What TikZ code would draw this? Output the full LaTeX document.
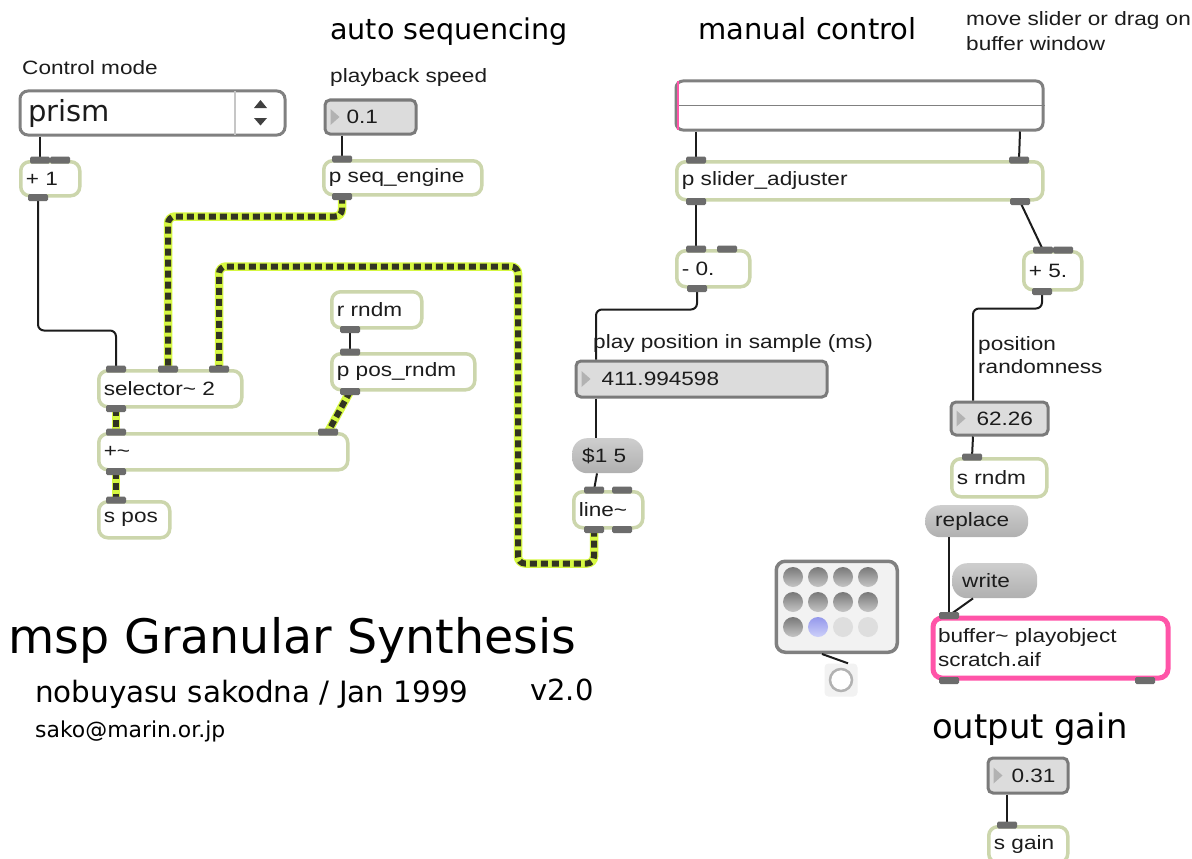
\documentclass[tikz,border=0pt]{standalone}
\usepackage{fontspec}
\setmainfont{DejaVu Sans}
\newfontfamily\maxfont[FakeStretch=1.17]{Liberation Sans}
\usetikzlibrary{calc}

\definecolor{objc}{RGB}{204,214,172}
\definecolor{tabc}{RGB}{108,108,108}
\definecolor{numfill}{RGB}{220,220,220}
\definecolor{numedge}{RGB}{122,122,122}
\definecolor{menuedge}{RGB}{128,128,128}
\definecolor{msgtop}{RGB}{206,206,206}
\definecolor{msgbot}{RGB}{176,176,176}
\definecolor{sigyel}{RGB}{214,248,66}
\definecolor{sigdark}{RGB}{50,52,34}
\definecolor{bufpink}{RGB}{255,84,168}
\definecolor{cordc}{RGB}{28,28,28}
\definecolor{ink}{RGB}{28,28,28}
\definecolor{tric}{RGB}{178,178,178}
\definecolor{padfill}{RGB}{242,242,242}
\definecolor{ledtop}{RGB}{120,120,120}
\definecolor{ledbot}{RGB}{198,198,198}
\definecolor{ledoff}{RGB}{222,222,222}
\definecolor{ledontop}{RGB}{148,152,235}
\definecolor{ledonbot}{RGB}{205,208,250}

\newcommand\objtext{\maxfont\fontsize{19.3}{24}\selectfont}
\newcommand\sanssize[1]{\fontsize{#1}{#1}\selectfont}
\newcommand\porttab[1]{\fill[tabc,rounded corners=1.5pt] ($(#1)+(-10pt,-3.5pt)$) rectangle ($(#1)+(10pt,3.5pt)$);}
\newcommand\mkin[3]{\coordinate (#1-i#2) at ($(#1.north west)+(#3,0)$);}
\newcommand\mkout[3]{\coordinate (#1-o#2) at ($(#1.south west)+(#3,0)$);}
\newcommand\numtri[1]{\fill[tric] ($(#1.west)+(7,-8)$) -- ($(#1.west)+(7,8)$) -- ($(#1.west)+(16,0)$) -- cycle;}

\begin{document}
\begin{tikzpicture}[x=1pt,y=-1pt,
  obj/.style={draw=objc, line width=3.5pt, rounded corners=9pt, fill=white, anchor=north west,
    inner xsep=5pt, inner ysep=0pt, align=left, font=\objtext, text=ink},
  numbox/.style={draw=numedge, fill=numfill, line width=3pt, rounded corners=5pt, anchor=north west,
    inner xsep=0pt, inner ysep=0pt, align=left, font=\objtext, text=ink},
  msgbox/.style={top color=msgtop, bottom color=msgbot, rounded corners=15pt, anchor=north west,
    inner xsep=10pt, inner ysep=0pt, align=left, font=\objtext, text=ink},
  ctl/.style={draw=cordc, line width=2pt, rounded corners=6pt},
  sig/.style={draw=sigdark, line width=6pt, dash pattern=on 7pt off 4pt, rounded corners=7pt,
    preaction={draw=sigyel, line width=8.5pt, solid}},
  label/.style={anchor=base west, inner sep=0pt, font=\objtext, text=ink},
  heading/.style={anchor=base west, inner sep=0pt, text=black},
]
\useasboundingbox (0,0) rectangle (1192,859);
\fill[white] (0,0) rectangle (1192,859);

% headings and comments
\node[heading, font=\sanssize{28.6}] (autoseq) at (330,40) {auto sequencing};
\node[heading, font=\sanssize{29}] (manual) at (698,40) {manual control};
\node[label] (hint1) at (966,26) {move slider or drag on};
\node[label] (hint2) at (966,51) {buffer window};
\node[label] (modelbl) at (22,75) {Control mode};
\node[label] (speedlbl) at (330,82) {playback speed};
\node[label] (poslbl) at (593,348) {play position in sample (ms)};
\node[label] (rndlbl1) at (978,350) {position};
\node[label] (rndlbl2) at (978,373) {randomness};
\node[heading, font=\sanssize{47.5}] (title) at (8,653) {msp Granular Synthesis};
\node[heading, font=\sanssize{29.4}] (author) at (35,702) {nobuyasu sakodna / Jan 1999};
\node[heading, font=\sanssize{29}] (version) at (530,700) {v2.0};
\node[heading, font=\sanssize{21.9}] (mail) at (35,737) {sako@marin.or.jp};
\node[heading, font=\sanssize{33.8}] (gainlbl) at (932,738) {output gain};

% control mode menu
\node[draw=menuedge, line width=3pt, rounded corners=8pt, fill=white, anchor=north west,
  inner xsep=8pt, inner ysep=0pt, minimum height=44pt, text width=249pt, align=left,
  font=\sanssize{29}, text=ink] (mode) at (18.5,89.5) {\raisebox{-2pt}{prism}};
\draw[gray!45, line width=2pt] ($(mode.north east)+(-51.5,1.5)$) -- ($(mode.south east)+(-51.5,-1.5)$);
\fill[black!75] ($(mode.north east)+(-32.5,18.5)$) -- ($(mode.north east)+(-19.5,18.5)$) -- ($(mode.north east)+(-26,10.5)$) -- cycle;
\fill[black!75] ($(mode.north east)+(-32.5,28.5)$) -- ($(mode.north east)+(-19.5,28.5)$) -- ($(mode.north east)+(-26,36)$) -- cycle;

% waveform slider
\node[draw=menuedge, line width=3pt, rounded corners=7pt, fill=white, anchor=north west,
  minimum width=367pt, minimum height=49pt, inner sep=0pt] (wave) at (674.5,79.5) {};
\draw[gray, line width=1.5pt] (wave.west) -- (wave.east);
\draw[bufpink, line width=2pt] ($(wave.north west)+(3.5,2)$) -- ($(wave.south west)+(3.5,-2)$);

% objects
\node[obj, minimum height=34pt, text width=49pt] (plus1) at (19,160) {+ 1};
\node[numbox, minimum height=34pt, text width=91pt] (speed) at (323.5,98.5) {\hspace*{21.5pt}0.1};
\node[obj, minimum height=34pt, text width=148pt] (seq) at (322,159) {p seq\_engine};
\node[obj, minimum height=36pt, text width=133pt] (sel) at (97,369) {selector\textasciitilde{} 2};
\node[obj, minimum height=36pt, text width=239pt] (sum) at (97,432) {+\textasciitilde};
\node[obj, minimum height=36pt, text width=61pt] (spos) at (97,500) {s pos};
\node[obj, minimum height=36pt, text width=80pt] (rrndm) at (330,290) {r rndm};
\node[obj, minimum height=36pt, text width=133pt] (posrndm) at (330,352) {p pos\_rndm};
\node[obj, minimum height=38pt, text width=356pt] (sladj) at (675,160) {p slider\_adjuster};
\node[obj, minimum height=36pt, text width=63pt] (minus) at (675,249) {- 0.};
\node[numbox, minimum height=36pt, text width=251pt] (posnum) at (574.5,359.5) {\hspace*{25.5pt}411.994598};
\node[msgbox, minimum height=35pt, text width=51pt] (dollar) at (572,438) {\$1 5};
\node[obj, minimum height=36pt, text width=59pt] (linesig) at (572,490) {line\textasciitilde};
\node[obj, minimum height=38pt, text width=48pt] (plus5) at (1022,250) {+ 5.};
\node[numbox, minimum height=33pt, text width=97pt] (rndnum) at (949.5,400.5) {\hspace*{25.5pt}62.26};
\node[obj, minimum height=38pt, text width=85pt] (srndm) at (950,457) {s rndm};
\node[msgbox, minimum height=32pt, text width=83pt] (replace) at (925,505) {replace};
\node[msgbox, minimum height=35pt, text width=65pt] (write) at (952,563) {write};
\node[obj, draw=bufpink, line width=5pt, minimum height=60pt, text width=225pt] (buffer) at (930.5,615.5) {buffer\textasciitilde{} playobject\\scratch.aif};
\node[numbox, minimum height=35pt, text width=80pt] (gain) at (986.5,756.5) {\hspace*{23.5pt}0.31};
\node[obj, minimum height=36pt, text width=69pt] (sgain) at (987,825) {s gain};

\numtri{speed} \numtri{posnum} \numtri{rndnum} \numtri{gain}

% button matrix and button
\node[draw=menuedge, line width=3.5pt, rounded corners=9pt, fill=padfill, anchor=north west,
  minimum width=121pt, minimum height=91pt, inner sep=0pt] (pad) at (774.5,559.5) {};
\foreach \c in {0,...,3}
  \foreach \r in {0,1}
    \shade[top color=ledtop, bottom color=ledbot] ($(pad.north west)+(18.5+25*\c,17.5+25*\r)$) circle (10pt);
\shade[top color=ledtop, bottom color=ledbot] ($(pad.north west)+(18.5,67.5)$) circle (10pt);
\shade[top color=ledontop, bottom color=ledonbot] ($(pad.north west)+(43.5,67.5)$) circle (10pt);
\fill[ledoff] ($(pad.north west)+(68.5,67.5)$) circle (10pt);
\fill[ledoff] ($(pad.north west)+(93.5,67.5)$) circle (10pt);
\node[fill=padfill, rounded corners=4pt, minimum size=33pt, inner sep=0pt] (btnbg) at (841,680) {};
\node[circle, draw=gray!60, line width=2.5pt, fill=white, minimum size=22pt, inner sep=0pt] (btn) at (btnbg.center) {};

% port positions
\coordinate (mode-o1) at ($(mode.south west)+(21.5,0)$);
\coordinate (speed-o1) at ($(speed.south west)+(18.5,0)$);
\coordinate (wave-o1) at ($(wave.south west)+(21.5,0)$);
\coordinate (wave-o2) at ($(wave.south west)+(345.5,0)$);
\coordinate (posnum-i1) at ($(posnum.north west)+(21.5,0)$);
\coordinate (posnum-o1) at ($(posnum.south west)+(21.5,0)$);
\coordinate (dollar-i1) at ($(dollar.north west)+(24,0)$);
\coordinate (dollar-o1) at ($(dollar.south west)+(25,0)$);
\coordinate (rndnum-i1) at ($(rndnum.north west)+(23.5,0)$);
\coordinate (rndnum-o1) at ($(rndnum.south west)+(23.5,0)$);
\coordinate (replace-o1) at ($(replace.south west)+(24,0)$);
\coordinate (write-o1) at ($(write.south west)+(21,0)$);
\coordinate (gain-o1) at ($(gain.south west)+(20.5,0)$);
\coordinate (pad-o1) at ($(pad.south west)+(47.5,0)$);
\coordinate (btn-i1) at ($(btnbg.north)+(7,0)$);
\mkin{plus1}{1}{21} \mkin{plus1}{2}{41} \mkout{plus1}{1}{19}
\mkin{seq}{1}{20} \mkout{seq}{1}{20}
\mkin{sel}{1}{19} \mkin{sel}{2}{71} \mkin{sel}{3}{122} \mkout{sel}{1}{19}
\mkin{sum}{1}{19} \mkin{sum}{2}{231} \mkout{sum}{1}{19}
\mkin{spos}{1}{19}
\mkout{rrndm}{1}{20}
\mkin{posrndm}{1}{20} \mkout{posrndm}{1}{20}
\mkin{sladj}{1}{21} \mkin{sladj}{2}{344} \mkout{sladj}{1}{21} \mkout{sladj}{2}{345}
\mkin{minus}{1}{21} \mkin{minus}{2}{52} \mkout{minus}{1}{22}
\mkin{linesig}{1}{22} \mkin{linesig}{2}{50} \mkout{linesig}{1}{22} \mkout{linesig}{2}{50}
\mkin{plus5}{1}{21} \mkin{plus5}{2}{41} \mkout{plus5}{1}{20}
\mkin{srndm}{1}{22}
\mkin{buffer}{1}{18.5} \mkout{buffer}{1}{18.5} \mkout{buffer}{2}{214.5}
\mkin{sgain}{1}{20}

% patch cords
\draw[ctl] (mode-o1) -- (plus1-i1);
\draw[ctl] (plus1-o1) -- ++(0,133) -| (sel-i1);
\draw[ctl] (speed-o1) -- (seq-i1);
\draw[sig] (seq-o1) -- ++(0,20) -| (sel-i2);
\draw[sig] (linesig-o1) -- ++(0,34) -- ++(-76,0) -- ++(0,-297) -| (sel-i3);
\draw[ctl] (rrndm-o1) -- (posrndm-i1);
\draw[sig] (posrndm-o1) -- (sum-i2);
\draw[sig] (sel-o1) -- (sum-i1);
\draw[sig] (sum-o1) -- (spos-i1);
\draw[ctl] (wave-o1) -- (sladj-i1);
\draw[ctl] (wave-o2) -- (sladj-i2);
\draw[ctl] (sladj-o1) -- (minus-i1);
\draw[ctl] (minus-o1) -- ++(0,21) -| (posnum-i1);
\draw[ctl] (posnum-o1) -- (dollar-i1);
\draw[ctl] (dollar-o1) -- (linesig-i1);
\draw[ctl] (sladj-o2) -- (plus5-i1);
\draw[ctl] (plus5-o1) -- ++(0,17) -| (rndnum-i1);
\draw[ctl] (rndnum-o1) -- (srndm-i1);
\draw[ctl] (replace-o1) -- (buffer-i1);
\draw[ctl] (write-o1) -- (buffer-i1);
\draw[ctl] (gain-o1) -- (sgain-i1);
\draw[ctl] (pad-o1) -- (btn-i1);

% inlet and outlet tabs
\foreach \p in {plus1-i1,plus1-i2,plus1-o1,seq-i1,seq-o1,sel-i1,sel-i2,sel-i3,sel-o1,
  sum-i1,sum-i2,sum-o1,spos-i1,rrndm-o1,posrndm-i1,posrndm-o1,
  sladj-i1,sladj-i2,sladj-o1,sladj-o2,minus-i1,minus-i2,minus-o1,
  linesig-i1,linesig-i2,linesig-o1,linesig-o2,plus5-i1,plus5-i2,plus5-o1,
  srndm-i1,buffer-i1,buffer-o1,buffer-o2,sgain-i1}
  {\porttab{\p}}
\end{tikzpicture}
\end{document}
